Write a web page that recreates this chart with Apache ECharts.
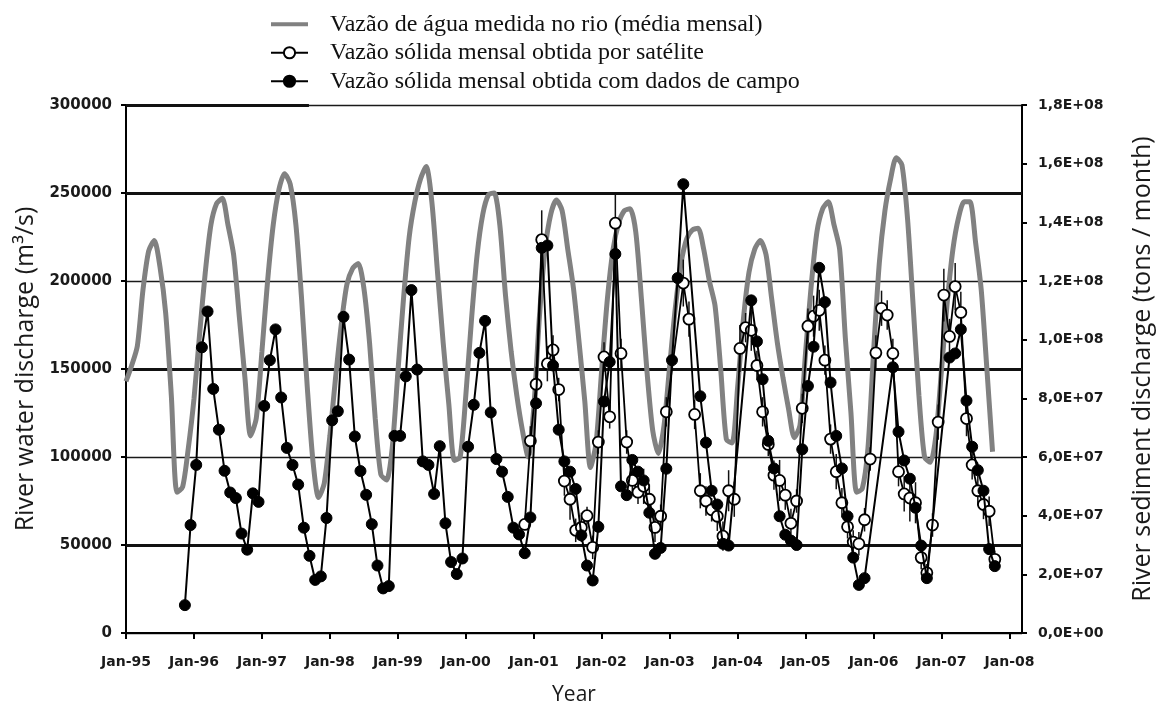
<!DOCTYPE html>
<html>
<head>
<meta charset="utf-8">
<script src="https://cdn.jsdelivr.net/npm/echarts@6/dist/echarts.min.js"></script>
<style>
  html, body { margin: 0; padding: 0; background: #ffffff; }
  #chart { width: 1163px; height: 713px; }
</style>
</head>
<body>
<div id="chart"></div>
<script>
// Year ticks on the time axis (one per January)
const yearTicks = ['Jan-95', 'Jan-96', 'Jan-97', 'Jan-98', 'Jan-99', 'Jan-00', 'Jan-01',
                   'Jan-02', 'Jan-03', 'Jan-04', 'Jan-05', 'Jan-06', 'Jan-07', 'Jan-08'];

const seriesNames = [
  'Vazão de água medida no rio (média mensal)',
  'Vazão sólida mensal obtida por satélite',
  'Vazão sólida mensal obtida com dados de campo'
];

// Monthly mean river discharge (m3/s), Jan-1995 .. Oct-2007
const waterDischarge = [
  143000, 152000, 163000, 195000, 217000, 223000, 208000, 182000, 135000, 80000, 83000, 105000,
  133000, 170000, 205000, 232000, 244000, 247000, 232000, 215000, 180000, 145000, 112000, 122000,
  160000, 200000, 232000, 252000, 261000, 255000, 232000, 190000, 140000, 98000, 77000, 85000,
  112000, 145000, 175000, 198000, 207000, 210000, 196000, 165000, 122000, 90000, 87000, 105000,
  148000, 190000, 225000, 245000, 258000, 265000, 245000, 205000, 165000, 130000, 98000, 100000,
  135000, 178000, 215000, 238000, 249000, 250000, 232000, 192000, 160000, 135000, 115000, 100000,
  128000, 180000, 218000, 238000, 246000, 240000, 218000, 196000, 165000, 132000, 94000, 108000,
  150000, 190000, 218000, 233000, 240000, 241000, 228000, 190000, 148000, 115000, 102000, 118000,
  152000, 185000, 210000, 224000, 229000, 230000, 218000, 200000, 186000, 150000, 110000, 108000,
  140000, 178000, 205000, 218000, 223000, 215000, 190000, 165000, 145000, 127000, 111000, 118000,
  160000, 198000, 228000, 241000, 245000, 232000, 218000, 168000, 125000, 80000, 82000, 105000,
  160000, 210000, 240000, 258000, 270000, 266000, 235000, 185000, 135000, 100000, 97000, 112000,
  150000, 188000, 218000, 236000, 245000, 245000, 222000, 195000, 150000, 103000
];

// Field-measured monthly sediment discharge (10^6 t/month), first value = Nov-1995
const fieldStartMonth = 10;
const fieldSediment = [
  9.5, 36.8,
  57.3, 97.4, 109.6, 83.2, 69.3, 55.3, 47.9, 46.0, 33.9, 28.4, 47.6, 44.7,
  77.4, 93.0, 103.5, 80.3, 63.1, 57.3, 50.6, 35.9, 26.3, 18.1, 19.3, 39.2,
  72.5, 75.6, 107.8, 93.2, 67.0, 55.2, 47.1, 37.1, 23.0, 15.2, 16.0, 67.2,
  67.2, 87.5, 116.9, 89.8, 58.5, 57.3, 47.4, 63.7, 37.4, 24.2, 20.1, 25.4,
  63.5, 77.8, 95.5, 106.4, 75.2, 59.3, 55.0, 46.4, 35.9, 33.6, 27.2, 39.4,
  78.3, 131.3, 132.1, 91.2, 69.3, 58.5, 55.0, 49.1, 33.3, 23.0, 17.9, 36.2,
  78.9, 92.4, 129.2, 50.0, 47.0, 59.0, 55.0, 52.0, 41.0, 27.0, 29.0, 56.0,
  93.0, 121.0, 153.0, null, null, 80.7, 64.9, 48.5, 43.8, 30.4, 29.8, null,
  null, null, 113.4, 99.4, 86.5, 65.5, 56.1, 39.8, 33.5, 31.5, 30.0, 62.6,
  84.2, 97.6, 124.5, 112.8, 85.4, 67.2, 56.1, 39.8, 25.7, 16.4, 18.7, null,
  null, null, null, 90.6, 68.6, 58.8, 52.6, 42.7, 29.8, 18.7, null, null,
  null, 93.9, 95.3, 103.5, 79.2, 63.5, 55.5, 48.5, 28.6, 22.8
];

// Satellite-derived monthly sediment discharge (10^6 t/month), first value = Nov-2000
const satStartMonth = 70;
const satelliteSediment = [
  37.0, 65.5,
  84.8, 134.1, 91.8, 96.5, 83.0, 51.8, 45.6, 35.0, 36.0, 40.0, 29.2, 65.1,
  94.1, 73.7, 139.7, 95.3, 65.1, 52.0, 48.0, 50.0, 45.6, 36.0, 39.8, 75.4,
  null, null, 119.3, 107.0, 74.5, 48.5, 45.0, 42.0, 39.8, 33.0, 48.5, 45.6,
  97.0, 104.1, 103.2, 91.2, 75.4, 64.3, 53.8, 52.0, 47.0, 37.4, 45.0, 76.6,
  104.6, 108.0, 110.0, 93.0, 66.1, 55.0, 44.4, 36.2, 31.0, 30.4, 38.6, 59.3,
  95.5, 110.7, 108.4, 95.3, 55.0, 47.4, 46.0, 44.4, 25.7, 20.5, 36.8, 71.9,
  115.2, 101.1, 118.1, 109.3, 73.1, 57.3, 48.5, 43.8, 41.5, 25.1
];
// Half-width of the satellite uncertainty bars (10^6 t/month)
const satelliteError = [
  0, 5,
  6, 10, 6, 5, 4, 5, 7, 4, 5, 3, 4, 4,
  5, 4, 10, 5, 4, 5, 4, 6, 5, 5, 4, 5,
  0, 0, 8, 6, 5, 6, 5, 4, 5, 5, 7, 6,
  8, 5, 7, 5, 5, 4, 5, 7, 5, 5, 4, 5,
  6, 7, 7, 5, 5, 6, 5, 4, 4, 4, 4, 4,
  6, 6, 5, 5, 5, 6, 8, 7, 4, 3, 4, 6,
  9, 6, 8, 7, 6, 5, 5, 5, 5, 3
];

// Sampled values sit mid-month on the time axis
const MID_MONTH = 0.4;
const MT = 1e6;

const waterData = waterDischarge.map((v, i) => [i, v]);
const fieldData = [];
fieldSediment.forEach((v, i) => { if (v !== null) fieldData.push([fieldStartMonth + i + MID_MONTH, v * MT]); });
const satData = [];
const errData = [];
satelliteSediment.forEach((v, i) => {
  if (v === null) return;
  const x = satStartMonth + i + MID_MONTH;
  satData.push([x, v * MT]);
  const e = satelliteError[i];
  if (e > 0) errData.push([x, (v - e) * MT, (v + e) * MT]);
});

const yearTickValues = yearTicks.map((_, i) => i * 12);

function sciComma(v) {
  if (v === 0) return '0,0E+00';
  const exp = Math.floor(Math.log10(v) + 1e-9);
  const mant = v / Math.pow(10, exp);
  return mant.toFixed(1).replace('.', ',') + 'E+' + String(exp).padStart(2, '0');
}

const labelFont = { fontFamily: 'DejaVu Sans', fontWeight: 'bold', fontSize: 14, color: '#1a1a1a' };
const nameFont = { fontFamily: 'Open Sans', fontSize: 25, color: '#1a1a1a' };

// thin horizontal bar used as the legend key of the discharge line
const barIcon = 'path://M0,0 L0,0 M0,5 L37,5 L37,9 L0,9 Z M37,14 L37,14';

const chart = echarts.init(document.getElementById('chart'), null, { renderer: 'canvas' });
chart.setOption({
  animation: false,
  backgroundColor: '#ffffff',
  grid: { left: 126, right: 136, top: 105, bottom: 80, containLabel: false },
  legend: {
    data: [
      { name: seriesNames[0], icon: barIcon, itemStyle: { color: '#818181' } },
      { name: seriesNames[1] },
      { name: seriesNames[2] }
    ],
    orient: 'vertical',
    left: 265,
    top: 5,
    itemWidth: 37,
    itemHeight: 14,
    itemGap: 0,
    textStyle: { fontFamily: 'Liberation Serif', fontSize: 24, color: '#111', lineHeight: 28.5, padding: [0, 0, 0, 17] }
  },
  xAxis: {
    type: 'value',
    min: 0,
    max: 158.2,
    interval: 12,
    name: 'Year',
    nameLocation: 'middle',
    nameGap: 52,
    nameTextStyle: { ...nameFont, fontSize: 21 },
    axisLine: { show: true, lineStyle: { color: '#000', width: 2 } },
    axisTick: { show: true, length: 6, lineStyle: { color: '#000', width: 2 }, customValues: yearTickValues },
    axisLabel: {
      ...labelFont, margin: 22,
      customValues: yearTickValues,
      formatter: v => yearTicks[Math.round(v / 12)] || ''
    },
    splitLine: { show: false }
  },
  yAxis: [
    {
      type: 'value',
      position: 'left',
      min: 0,
      max: 300000,
      interval: 50000,
      name: 'River water discharge (m³/s)',
      nameLocation: 'middle',
      nameRotate: 90,
      nameGap: 86,
      nameTextStyle: nameFont,
      axisLine: { show: true, lineStyle: { color: '#000', width: 2 } },
      axisTick: { show: true, length: 5, lineStyle: { color: '#000', width: 2 } },
      axisLabel: { ...labelFont, fontSize: 15, margin: 14, formatter: v => String(v) },
      splitLine: { show: true, lineStyle: { color: '#1a1a1a', width: 1.3 } }
    },
    {
      type: 'value',
      position: 'right',
      min: 0,
      max: 1.8e8,
      interval: 2e7,
      name: 'River sediment discharge (tons / month)',
      nameLocation: 'middle',
      nameRotate: 90,
      nameGap: 108,
      nameTextStyle: nameFont,
      axisLine: { show: true, lineStyle: { color: '#000', width: 2 } },
      axisTick: { show: true, length: 5, lineStyle: { color: '#000', width: 2 } },
      axisLabel: { ...labelFont, margin: 16, formatter: sciComma },
      splitLine: { show: false }
    }
  ],
  series: [
    {
      name: seriesNames[0],
      type: 'line',
      data: waterData,
      symbol: 'none',
      smooth: 0.25,
      z: 2,
      lineStyle: { color: '#818181', width: 5 },
      itemStyle: { color: '#818181' },
      markLine: {
        silent: true,
        z: 1,
        symbol: 'none',
        label: { show: false },
        lineStyle: { color: '#111', width: 3, type: 'solid' },
        data: [
          { yAxis: 50000 },
          { yAxis: 150000 },
          { yAxis: 250000 },
          [{ coord: [0, 300000] }, { coord: [32.3, 300000] }]
        ]
      }
    },
    {
      name: 'satellite-uncertainty',
      type: 'custom',
      yAxisIndex: 1,
      z: 3,
      data: errData,
      encode: { x: 0, y: [1, 2] },
      renderItem: (params, api) => {
        const x = api.value(0);
        const lo = api.coord([x, api.value(1)]);
        const hi = api.coord([x, api.value(2)]);
        return {
          type: 'line',
          shape: { x1: lo[0], y1: lo[1], x2: hi[0], y2: hi[1] },
          style: { stroke: '#111', lineWidth: 1.5 }
        };
      }
    },
    {
      name: seriesNames[1],
      type: 'line',
      yAxisIndex: 1,
      data: satData,
      z: 4,
      symbol: 'circle',
      symbolSize: 11,
      lineStyle: { color: '#000', width: 1.8 },
      itemStyle: { color: '#ffffff', borderColor: '#000', borderWidth: 1.8 }
    },
    {
      name: seriesNames[2],
      type: 'line',
      yAxisIndex: 1,
      data: fieldData,
      z: 5,
      symbol: 'circle',
      symbolSize: 11,
      lineStyle: { color: '#000', width: 2 },
      itemStyle: { color: '#000', borderColor: '#000', borderWidth: 1 }
    }
  ]
});
</script>
</body>
</html>
